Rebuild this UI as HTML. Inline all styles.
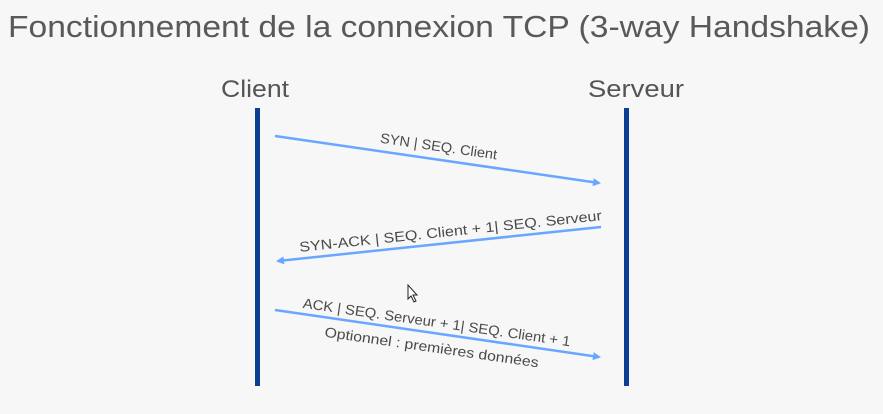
<!DOCTYPE html>
<html><head><style>
html,body{margin:0;padding:0;background:#f7f7f7;}
svg{display:block;}
text{font-family:"Liberation Sans",sans-serif;}
</style></head><body>
<svg width="883" height="414" viewBox="0 0 883 414" xmlns="http://www.w3.org/2000/svg">
<rect width="883" height="414" fill="#f7f7f7"/>
<defs>
<marker id="ah" markerWidth="8" markerHeight="8" refX="6" refY="4" orient="auto" markerUnits="userSpaceOnUse">
<path d="M0,0 L8,4 L0,8 Z" fill="#69a6ff"/>
</marker>
</defs>
<text x="8" y="37" font-size="31" fill="#595959" textLength="862" lengthAdjust="spacingAndGlyphs">Fonctionnement de la connexion TCP (3-way Handshake)</text>
<text x="255" y="97" font-size="24" fill="#555" text-anchor="middle" textLength="68" lengthAdjust="spacingAndGlyphs">Client</text>
<text x="636" y="97" font-size="24" fill="#555" text-anchor="middle" textLength="96" lengthAdjust="spacingAndGlyphs">Serveur</text>
<rect x="255" y="108" width="5" height="278" fill="#0b3f91"/>
<rect x="624" y="108" width="5" height="278" fill="#0b3f91"/>
<g stroke="#69a6ff" stroke-width="2.5" fill="none">
<line x1="275" y1="136" x2="599" y2="183" marker-end="url(#ah)"/>
<line x1="601" y1="227" x2="278" y2="261" marker-end="url(#ah)"/>
<line x1="275" y1="310" x2="599" y2="357" marker-end="url(#ah)"/>
</g>
<g font-size="14" fill="#4a4a4a" text-anchor="middle">
<text transform="translate(438,151) rotate(8.2)" textLength="118" lengthAdjust="spacingAndGlyphs">SYN | SEQ. Client</text>
<text transform="translate(451,236) rotate(-6)" textLength="304" lengthAdjust="spacingAndGlyphs">SYN-ACK | SEQ. Client + 1| SEQ. Serveur</text>
<text transform="translate(436,327) rotate(8.2)" textLength="270" lengthAdjust="spacingAndGlyphs">ACK | SEQ. Serveur + 1| SEQ. Client + 1</text>
<text transform="translate(431,352) rotate(8.2)" textLength="216" lengthAdjust="spacingAndGlyphs">Optionnel : premières données</text>
</g>
<path d="M408,285 L408,299 L411,296 L414,302 L416,301 L413,295 L417,295 Z" fill="#fff" stroke="#222" stroke-width="1"/>
</svg>
</body></html>
